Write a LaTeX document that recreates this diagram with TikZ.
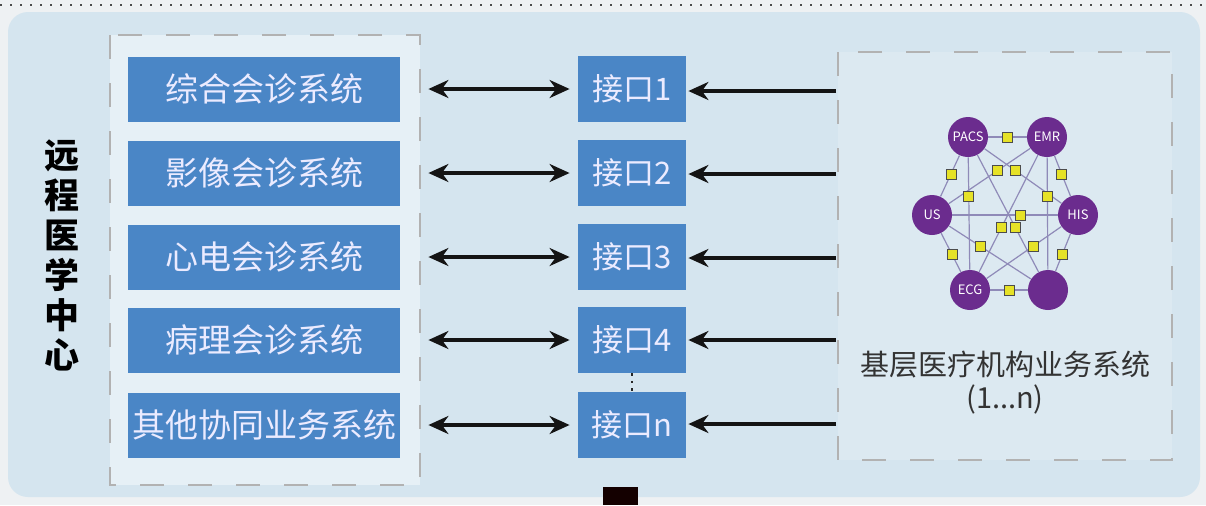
\documentclass[tikz,border=0pt]{standalone}
\usepackage{fontspec}
\setmainfont{Noto Sans CJK SC}
\usetikzlibrary{arrows.meta,positioning}
\definecolor{pagebg}{HTML}{EEF1F3}
\definecolor{panelbg}{HTML}{D5E5EF}
\definecolor{listbg}{HTML}{E6F0F6}
\definecolor{netbg}{HTML}{DCE9F1}
\definecolor{sysblue}{HTML}{4A86C6}
\definecolor{hubpurple}{HTML}{6B2C8E}
\definecolor{linkgray}{HTML}{8F8AB8}
\definecolor{chipyellow}{HTML}{E6E227}

\begin{document}
\begin{tikzpicture}[x=0.5pt, y=-0.5pt,
  sysbox/.style={fill=sysblue, text=white!92!blue, minimum width=136pt, minimum height=32.5pt, inner sep=0pt, font=\fontsize{16.5}{18}\selectfont},
  ifbox/.style={fill=sysblue, text=white!92!blue, minimum width=54pt, minimum height=33pt, inner sep=0pt, font=\fontsize{15.5}{18}\selectfont},
  pipe/.style={line width=1.7pt, black!92, -{Stealth[length=10pt, width=9pt]}},
  pipe2/.style={line width=1.7pt, black!92, {Stealth[length=10pt, width=9pt]}-{Stealth[length=10pt, width=9pt]}},
  hub/.style={circle, fill=hubpurple, text=white, minimum size=20pt, inner sep=0pt, font=\fontsize{6.5}{7}\selectfont},
  link/.style={linkgray, line width=0.6pt},
  chip/.style={draw=black!70, fill=chipyellow, line width=0.3pt, minimum size=5pt, inner sep=0pt},
  frame/.style={draw=black!30, line width=0.6pt, dash pattern=on 12pt off 12pt}]
  \useasboundingbox (0,0) rectangle (1206,505);
  \fill[pagebg] (0,0) rectangle (1206,505);
  \draw[black!70, line width=1.1pt, dash pattern=on 1.1pt off 3.9pt] (0,5) -- (1206,5);
  \fill[panelbg, rounded corners=10pt] (8,12) rectangle (1200,497);

  % left: centre and its systems
  \node[font=\fontsize{17.5}{20}\selectfont\bfseries, align=center] (centre) at (62,255) {远\\程\\医\\学\\中\\心};
  \fill[listbg] (110,35) rectangle (420,485);
  \draw[frame] (110,35) rectangle (420,485);
  \node[sysbox] (s1) at (264,89) {综合会诊系统};
  \node[sysbox] (s2) at (264,173) {影像会诊系统};
  \node[sysbox] (s3) at (264,257) {心电会诊系统};
  \node[sysbox] (s4) at (264,340) {病理会诊系统};
  \node[sysbox] (s5) at (264,425) {其他协同业务系统};

  % interfaces
  \node[ifbox] (i1) at (632,89) {接口1};
  \node[ifbox] (i2) at (632,173) {接口2};
  \node[ifbox] (i3) at (632,257) {接口3};
  \node[ifbox] (i4) at (632,340) {接口4};
  \node[ifbox] (in) at (632,425) {接口n};
  \draw[black!85, line width=1.2pt, dash pattern=on 1.2pt off 2.5pt] (i4.south) -- (in.north);
  \node[fill=black!80!red!40!black, minimum width=17.5pt, minimum height=9pt, inner sep=0pt] (tail) at (620,496) {};

  % right: local hospital systems
  \fill[netbg] (838,52) rectangle (1172,460);
  \draw[frame] (838,52) rectangle (1172,460);
  \coordinate (r1) at (836,91);
  \coordinate (r2) at (836,174);
  \coordinate (r3) at (836,258);
  \coordinate (r4) at (836,340);
  \coordinate (rn) at (836,424);

  \draw[pipe2] ([xshift=14pt]s1.east) -- ([xshift=-4pt]i1.west);
  \draw[pipe2] ([xshift=14pt]s2.east) -- ([xshift=-4pt]i2.west);
  \draw[pipe2] ([xshift=14pt]s3.east) -- ([xshift=-4pt]i3.west);
  \draw[pipe2] ([xshift=14pt]s4.east) -- ([xshift=-4pt]i4.west);
  \draw[pipe2] ([xshift=14pt]s5.east) -- ([xshift=-4pt]in.west);
  \draw[pipe] (r1) -- ([xshift=1pt]r1 -| i1.east);
  \draw[pipe] (r2) -- ([xshift=1pt]r2 -| i2.east);
  \draw[pipe] (r3) -- ([xshift=1pt]r3 -| i3.east);
  \draw[pipe] (r4) -- ([xshift=1pt]r4 -| i4.east);
  \draw[pipe] (rn) -- ([xshift=1pt]rn -| in.east);

  % network of hospital systems
  \node[hub] (pacs) at (968,137) {PACS};
  \node[hub] (emr) at (1047,137) {EMR};
  \node[hub] (us) at (932,215) {US};
  \node[hub] (his) at (1078,215) {HIS};
  \node[hub] (ecg) at (970,290) {ECG};
  \node[hub] (misc) at (1048,290) {};
  \draw[link] (pacs) -- node[chip, pos=0.5] {} (emr);
  \draw[link] (pacs) -- node[chip, pos=0.45] {} (us);
  \draw[link] (emr) -- node[chip, pos=0.45] {} (his);
  \draw[link] (us) -- node[chip, pos=0.55] {} (ecg);
  \draw[link] (his) -- node[chip, pos=0.55] {} (misc);
  \draw[link] (ecg) -- node[chip, pos=0.5] {} (misc);
  \draw[link] (pacs) -- node[chip, pos=0.4] {} (his);
  \draw[link] (emr) -- node[chip, pos=0.4] {} (us);
  \draw[link] (pacs) -- node[chip, pos=0.35] {} (ecg);
  \draw[link] (emr) -- node[chip, pos=0.35] {} (misc);
  \draw[link] (us) -- node[chip, pos=0.65] {} (his);
  \draw[link] (pacs) -- node[chip, pos=0.62] {} (misc);
  \draw[link] (emr) -- node[chip, pos=0.62] {} (ecg);
  \draw[link] (us) -- node[chip, pos=0.38] {} (misc);
  \draw[link] (his) -- node[chip, pos=0.38] {} (ecg);
  \node[text=black!80, align=center, font=\fontsize{14.5}{16.5}\selectfont] (label) at (1005,383) {基层医疗机构业务系统\\(1...n)};
\end{tikzpicture}
\end{document}
